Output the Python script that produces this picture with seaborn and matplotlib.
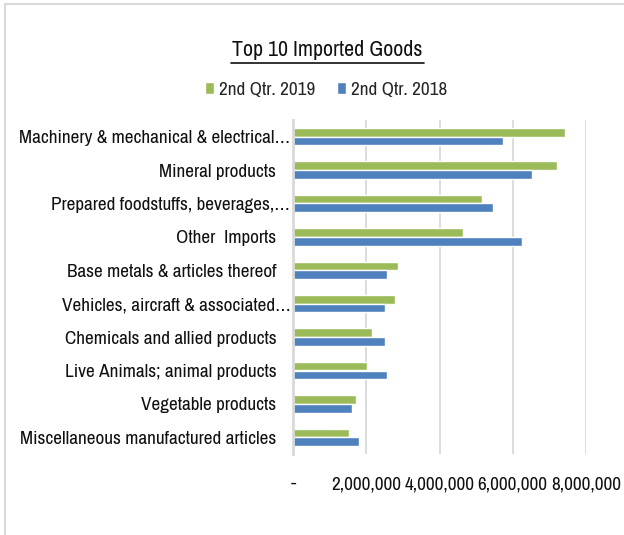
import numpy as np
import pandas as pd
import matplotlib.pyplot as plt
import matplotlib.ticker as mticker
import matplotlib.transforms as mtransforms
from matplotlib import font_manager
from matplotlib.patches import Patch
import seaborn as sns

# data
categories = [
    'Machinery & mechanical & electrical\u2026',
    'Mineral products',
    'Prepared foodstuffs, beverages,\u2026',
    'Other  Imports',
    'Base metals & articles thereof',
    'Vehicles, aircraft & associated\u2026',
    'Chemicals and allied products',
    'Live Animals; animal products',
    'Vegetable products',
    'Miscellaneous manufactured articles',
]
q2_2019 = [7420000, 7200000, 5160000, 4640000, 2860000, 2780000, 2160000, 2030000, 1710000, 1520000]
q2_2018 = [5730000, 6520000, 5460000, 6250000, 2560000, 2500000, 2510000, 2560000, 1600000, 1810000]
series = ['2nd Qtr. 2019', '2nd Qtr. 2018']
colors = ['#9BBB59', '#4F81BD']
x_ticks = [0, 2000000, 4000000, 6000000, 8000000]

df = pd.DataFrame({
    'Category': categories * 2,
    'Period': [series[0]] * len(categories) + [series[1]] * len(categories),
    'Value': q2_2019 + q2_2018,
})

# look for a narrow face, otherwise shrink Liberation Sans
names = sorted({f.name for f in font_manager.fontManager.ttflist})
narrow = [n for n in names if 'Narrow' in n or 'Condensed' in n]
if narrow:
    fam, fs = narrow[0], 13.8
else:
    fam, fs = 'Liberation Sans', 11.5

sns.set_style('white')
plt.rcParams['font.family'] = [fam, 'DejaVu Sans']

fig = plt.figure(figsize=(6.24, 5.35), dpi=100)
ax = fig.add_axes([293 / 624, 1 - 454 / 535, 293 / 624, 334 / 535])

sns.barplot(data=df, y='Category', x='Value', hue='Period', hue_order=series,
            order=categories, palette=colors, orient='h', width=0.52, gap=0,
            saturation=1, legend=False, ax=ax)

ax.set_xlim(0, 8000000)
ax.set_xticks(x_ticks)
ax.xaxis.set_major_formatter(mticker.FuncFormatter(lambda v, p: '-' if v == 0 else f'{v:,.0f}'))
ax.tick_params(axis='x', length=0, pad=16, labelsize=fs, colors='#111111')
ax.tick_params(axis='y', length=0, pad=12, labelsize=fs, colors='#111111')
ax.set_xlabel('')
ax.set_ylabel('')
ax.grid(axis='x', color='#d9d9d9', linewidth=1.3)
ax.set_axisbelow(True)
for s in ['top', 'right', 'bottom']:
    ax.spines[s].set_visible(False)
ax.spines['left'].set_color('#d9d9d9')
ax.spines['left'].set_linewidth(2)

# Excel lets the clipped labels run closer to the axis
shift = mtransforms.ScaledTranslation(14 / 100, 0, fig.dpi_scale_trans)
for lab in ax.get_yticklabels():
    if lab.get_text().endswith('\u2026'):
        lab.set_transform(lab.get_transform() + shift)

fig.text(327 / 624, 1 - 50 / 535, 'Top 10 Imported Goods', ha='center', va='center',
         fontsize=fs + 2, color='#111111')
fig.add_artist(plt.Line2D([231 / 624, 424 / 624], [1 - 63 / 535, 1 - 63 / 535],
                          color='#111111', linewidth=1.2))

handles = [Patch(facecolor=c, label=s) for c, s in zip(colors, series)]
fig.legend(handles=handles, loc='center', bbox_to_anchor=(326 / 624, 1 - 90 / 535),
           ncol=2, frameon=False, fontsize=fs, handlelength=0.5, handleheight=0.55,
           handletextpad=0.25, columnspacing=1.1)

# outer chart border
fig.add_artist(plt.Rectangle((5 / 624, -0.01), 1.1, 1 - 4 / 535 + 0.01, transform=fig.transFigure,
                             fill=False, edgecolor='#d9d9d9', linewidth=1.5))

fig.savefig('out.png', dpi=100)
